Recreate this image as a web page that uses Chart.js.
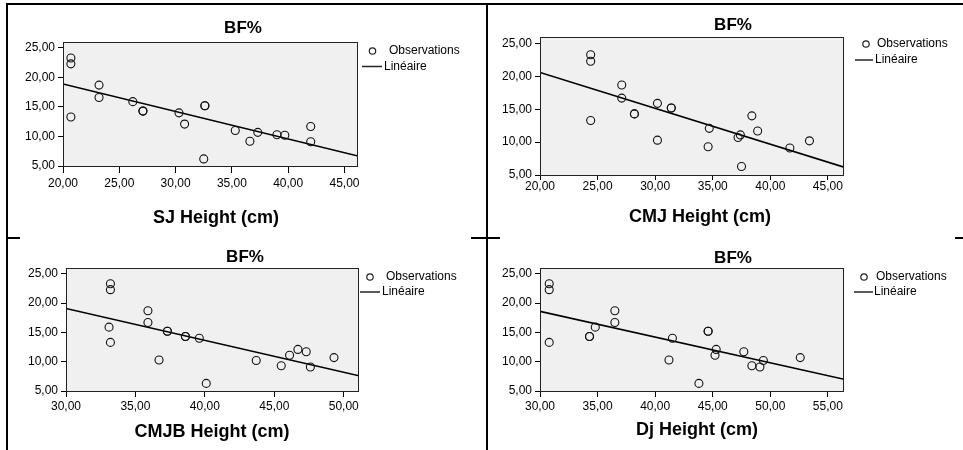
<!DOCTYPE html>
<html>
<head>
<meta charset="utf-8">
<script src="https://cdn.jsdelivr.net/npm/chart.js@4"></script>
<style>
  body { margin: 0; background: #fff; width: 963px; height: 450px; overflow: hidden; position: relative; }
  canvas { position: absolute; }
  .rule { position: absolute; background: #000; }
</style>
</head>
<body>
<div class="rule" style="left:6px;top:3px;width:957px;height:2px"></div>
<div class="rule" style="left:6px;top:3px;width:2px;height:447px"></div>
<div class="rule" style="left:486px;top:3px;width:2px;height:447px"></div>
<div class="rule" style="left:6px;top:237px;width:14px;height:2px"></div>
<div class="rule" style="left:471px;top:237px;width:29px;height:2px"></div>
<div class="rule" style="left:955px;top:237px;width:8px;height:2px"></div>

<canvas id="sj" width="476" height="230" style="left:8px;top:6px"></canvas>
<canvas id="cmj" width="474" height="230" style="left:489px;top:6px"></canvas>
<canvas id="cmjb" width="476" height="210" style="left:8px;top:240px"></canvas>
<canvas id="dj" width="474" height="210" style="left:489px;top:240px"></canvas>

<script>
// BF% against jump height, one list per panel (duplicates drawn twice)
const sjX = [20.7, 20.7, 20.7, 23.2, 23.2, 26.2, 27.1, 27.1, 30.3, 30.8, 32.6, 32.6, 32.5, 35.3, 36.6, 37.3, 39.0, 39.7, 42.0, 42.0];
const sjY = [23.3, 22.3, 13.3, 18.7, 16.6, 15.9, 14.3, 14.3, 14.0, 12.1, 15.2, 15.2, 6.2, 11.0, 9.2, 10.7, 10.3, 10.2, 11.7, 9.1];

const cmjX = [24.4, 24.4, 24.4, 27.1, 27.1, 28.2, 28.2, 30.2, 30.2, 31.4, 31.4, 34.7, 34.6, 37.4, 37.2, 37.5, 38.4, 38.9, 41.7, 43.4];
const cmjY = [23.3, 22.3, 13.3, 18.7, 16.7, 14.3, 14.3, 15.9, 10.3, 15.2, 15.2, 12.1, 9.3, 11.1, 10.7, 6.3, 14.0, 11.7, 9.1, 10.2];

const cmjbX = [33.2, 33.2, 33.1, 33.2, 35.9, 35.9, 37.3, 37.3, 38.6, 38.6, 39.6, 36.7, 40.1, 43.7, 45.5, 46.1, 46.7, 47.3, 47.6, 49.3];
const cmjbY = [23.3, 22.3, 15.9, 13.3, 18.7, 16.7, 15.2, 15.2, 14.3, 14.3, 14.0, 10.3, 6.3, 10.2, 9.3, 11.1, 12.1, 11.7, 9.1, 10.7];

const djX = [30.8, 30.8, 30.8, 34.3, 34.3, 34.8, 36.5, 36.5, 41.5, 41.2, 44.6, 44.6, 43.8, 45.3, 45.2, 47.7, 48.4, 49.1, 49.4, 52.6];
const djY = [23.3, 22.3, 13.3, 14.3, 14.3, 15.9, 18.7, 16.7, 14.0, 10.3, 15.2, 15.2, 6.3, 12.1, 11.1, 11.7, 9.3, 9.1, 10.2, 10.7];

// fitted line ends (Linéaire)
const sjFitX = [20, 46.2],   sjFitY = [18.9, 6.7];
const cmjFitX = [20, 46.4],  cmjFitY = [20.6, 6.2];
const cmjbFitX = [30, 51.1], cmjbFitY = [19.1, 7.6];
const djFitX = [30, 56.4],   djFitY = [18.6, 7.0];

const yTitle = 'BF%';
const seriesNames = ['Observations', 'Linéaire'];

Chart.defaults.font.family = 'Arial, "Liberation Sans", sans-serif';
Chart.defaults.color = '#000';

const fmt = v => v.toFixed(2).replace('.', ',');
const pts = (xs, ys) => xs.map((x, i) => ({ x, y: ys[i] }));

const panelDecor = {
  id: 'panelDecor',
  beforeDraw(chart) {
    const { ctx, chartArea: a } = chart;
    ctx.save();
    ctx.fillStyle = '#f0f0f0';
    ctx.fillRect(a.left, a.top, a.right - a.left, a.bottom - a.top);
    ctx.restore();
  },
  afterDraw(chart, args, o) {
    const { ctx, chartArea: a } = chart;
    ctx.save();
    ctx.strokeStyle = '#222';
    ctx.lineWidth = 1;
    ctx.strokeRect(Math.round(a.left) + 0.5, Math.round(a.top) + 0.5,
      Math.round(a.right - a.left) - 1, Math.round(a.bottom - a.top));

    ctx.fillStyle = '#000';
    ctx.textBaseline = 'middle';
    ctx.textAlign = 'center';
    ctx.font = 'bold 17px Arial, "Liberation Sans", sans-serif';
    ctx.fillText(yTitle, o.title[0] - o.ox, o.title[1] - o.oy);
    ctx.font = 'bold 18px Arial, "Liberation Sans", sans-serif';
    ctx.fillText(o.xTitle, o.xt[0] - o.ox, o.xt[1] - o.oy);

    // legend
    ctx.font = '12px Arial, "Liberation Sans", sans-serif';
    ctx.textAlign = 'left';
    ctx.lineWidth = 1.2;
    ctx.beginPath();
    ctx.arc(o.dot[0] - o.ox, o.dot[1] - o.oy, 3.2, 0, Math.PI * 2);
    ctx.stroke();
    ctx.fillText(seriesNames[0], o.dotText - o.ox, o.dot[1] - o.oy);
    ctx.lineWidth = 1.5;
    ctx.beginPath();
    ctx.moveTo(o.line[0] - o.ox, o.line[2] - o.oy);
    ctx.lineTo(o.line[1] - o.ox, o.line[2] - o.oy);
    ctx.stroke();
    ctx.fillText(seriesNames[1], o.lineText - o.ox, o.line[2] - o.oy);
    ctx.restore();
  }
};

function makePanel(id, xs, ys, fitX, fitY, p) {
  const tickFont = { size: 12 };
  new Chart(document.getElementById(id), {
    type: 'scatter',
    data: {
      datasets: [
        {
          label: seriesNames[0],
          data: pts(xs, ys),
          pointStyle: 'circle',
          pointRadius: 4,
          pointBorderWidth: 1.1,
          borderColor: '#111',
          backgroundColor: 'rgba(0,0,0,0)'
        },
        {
          type: 'line',
          label: seriesNames[1],
          data: pts(fitX, fitY),
          borderColor: '#000',
          borderWidth: 1.6,
          pointRadius: 0,
          fill: false
        }
      ]
    },
    options: {
      responsive: false,
      animation: false,
      events: [],
      layout: { padding: { left: 0, top: p.top, right: p.right, bottom: 0 } },
      plugins: {
        legend: { display: false },
        tooltip: { enabled: false },
        panelDecor: p
      },
      scales: {
        x: {
          type: 'linear',
          min: p.xMin,
          max: p.xMax,
          border: { display: false },
          grid: { drawOnChartArea: false, drawTicks: true, tickLength: p.xTick, color: '#000' },
          ticks: { stepSize: 5, includeBounds: false, callback: fmt, maxRotation: 0, autoSkip: false, font: tickFont, padding: p.xPad },
          afterFit: s => { s.height = p.xH; }
        },
        y: {
          type: 'linear',
          min: 5,
          max: 26,
          border: { display: false },
          grid: { drawOnChartArea: false, drawTicks: true, tickLength: 5, color: '#000' },
          ticks: { stepSize: 5, includeBounds: false, callback: fmt, font: tickFont, padding: 3 },
          afterFit: s => { s.width = p.yW; }
        }
      }
    },
    plugins: [panelDecor]
  });
}

makePanel('sj', sjX, sjY, sjFitX, sjFitY, {
  ox: 8, oy: 6, top: 36, right: 126, yW: 55, xH: 70, xMin: 20, xMax: 46.2, xTick: 7, xPad: 3,
  title: [243, 28], xTitle: 'SJ Height (cm)', xt: [216, 218],
  dot: [372.5, 51], dotText: 389, line: [362, 382, 66.5], lineText: 384
});
makePanel('cmj', cmjX, cmjY, cmjFitX, cmjFitY, {
  ox: 489, oy: 6, top: 31, right: 119, yW: 51, xH: 61, xMin: 20, xMax: 46.4, xTick: 5, xPad: -1,
  title: [733, 25], xTitle: 'CMJ Height (cm)', xt: [700, 217],
  dot: [866, 44], dotText: 877, line: [855, 873, 60], lineText: 875
});
makePanel('cmjb', cmjbX, cmjbY, cmjbFitX, cmjbFitY, {
  ox: 8, oy: 240, top: 28, right: 125, yW: 58, xH: 59, xMin: 30, xMax: 51.1, xTick: 6, xPad: 2,
  title: [245, 257], xTitle: 'CMJB Height (cm)', xt: [212, 432],
  dot: [370, 277], dotText: 386, line: [360, 380, 292], lineText: 382
});
makePanel('dj', djX, djY, djFitX, djFitY, {
  ox: 489, oy: 240, top: 28, right: 119, yW: 51, xH: 59, xMin: 30, xMax: 56.4, xTick: 6, xPad: 2,
  title: [733, 258], xTitle: 'Dj Height (cm)', xt: [697, 430],
  dot: [864, 277], dotText: 876, line: [854, 873, 292], lineText: 874
});
</script>
</body>
</html>
